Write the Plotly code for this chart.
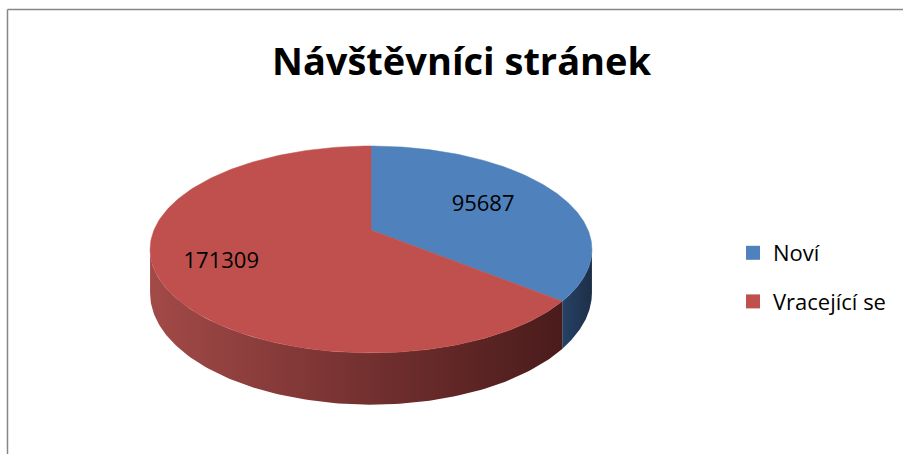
import numpy as np
import plotly.graph_objects as go

# ---- data ----
categories = ["Noví", "Vracející se"]
values = [95687, 171309]
title_text = "Návštěvníci stránek"

# ---- style ----
top_colors = ["#4F81BD", "#C0504D"]
side_scales = [
    [[0, "#274266"], [1, "#1C2F47"]],
    [[0, "#A24A48"], [0.45, "#7A3433"], [1, "#4A1B1B"]],
]

# ---- geometry of the tilted (3D-looking) pie, in pixel units ----
W, H = 903, 454
CX, CY = 371.0, 230.0
R, RY, K = 217.0, 99.8, 0.188
DEPTH = 42.0


def proj(theta_deg, r=1.0, drop=0.0):
    t = np.radians(theta_deg)
    u = r * np.sin(t)
    v = -r * np.cos(t)
    s = 1.0 / (1.0 - K * v)
    return CX + R * u * s, CY + (RY * v + drop) * s


total = float(sum(values))
bounds = [0.0]
for v in values:
    bounds.append(bounds[-1] + 360.0 * v / total)

sil1 = np.degrees(np.arccos(-K))
sil2 = 360.0 - sil1

fig = go.Figure()

# side walls
for i in range(len(values)):
    a = max(bounds[i], sil1)
    b = min(bounds[i + 1], sil2)
    if a >= b:
        continue
    th = np.linspace(a, b, 120)
    xt, yt = proj(th)
    xb, yb = proj(th[::-1], drop=DEPTH)
    xs = np.concatenate([xt, xb, xt[:1]])
    ys = np.concatenate([yt, yb, yt[:1]])
    fig.add_trace(go.Scatter(
        x=xs, y=ys, mode="lines", fill="toself",
        line=dict(width=0, color=top_colors[i]),
        fillgradient=dict(type="horizontal", colorscale=side_scales[i]),
        hoverinfo="skip", showlegend=False))

# top faces
for i in range(len(values)):
    th = np.linspace(bounds[i], bounds[i + 1], 200)
    xa, ya = proj(th)
    xs = np.concatenate([[CX], xa, [CX]])
    ys = np.concatenate([[CY], ya, [CY]])
    fig.add_trace(go.Scatter(
        x=xs, y=ys, mode="lines", fill="toself",
        fillcolor=top_colors[i], line=dict(width=0.5, color=top_colors[i]),
        hoverinfo="skip", showlegend=False))

# data labels
label_r = [0.60, 0.72]
for i in range(len(values)):
    mid = 0.5 * (bounds[i] + bounds[i + 1])
    lx, ly = proj(mid, r=label_r[i])
    fig.add_trace(go.Scatter(
        x=[lx], y=[ly], mode="text", text=[str(values[i])],
        textfont=dict(family="Open Sans", size=22, color="#000000"),
        hoverinfo="skip", showlegend=False))

# legend entries
for i, name in enumerate(categories):
    fig.add_trace(go.Scatter(
        x=[None], y=[None], mode="markers", name=name,
        legendgroup=name,
        marker=dict(symbol="square", size=14, color=top_colors[i]),
        showlegend=True))

fig.update_layout(
    width=W, height=H,
    margin=dict(l=0, r=0, t=0, b=0),
    paper_bgcolor="white", plot_bgcolor="white",
    xaxis=dict(range=[0, W], visible=False, fixedrange=True),
    yaxis=dict(range=[H, 0], visible=False, fixedrange=True),
    showlegend=True,
    legend=dict(
        x=733 / W, y=1 - 232 / H, xanchor="left", yanchor="top",
        font=dict(family="Open Sans", size=22, color="#000000"),
        tracegroupgap=17, bgcolor="rgba(0,0,0,0)", itemclick=False),
    annotations=[dict(
        text="<b>" + title_text + "</b>", x=462, y=60, xref="x", yref="y",
        xanchor="center", yanchor="middle", showarrow=False,
        font=dict(family="Open Sans", size=38, color="#000000"))],
    shapes=[
        dict(type="line", xref="x", yref="y", x0=7.5, y0=9.5, x1=W, y1=9.5,
             line=dict(color="#868686", width=1.5)),
        dict(type="line", xref="x", yref="y", x0=7.5, y0=9.5, x1=7.5, y1=H,
             line=dict(color="#868686", width=1.5)),
    ],
)

fig.write_html("out.html")
